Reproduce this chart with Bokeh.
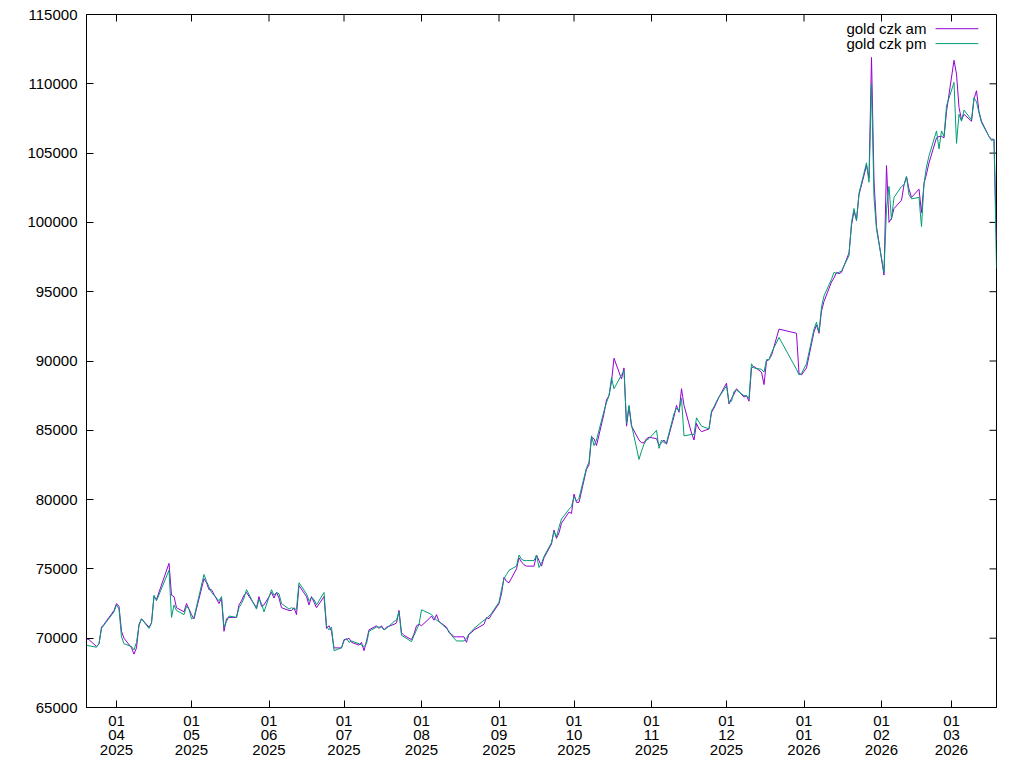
import pandas as pd
from bokeh.plotting import figure
from bokeh.models import (Range1d, FixedTicker, LinearAxis, DatetimeAxis, ColumnDataSource,
                          BasicTickFormatter)
from bokeh.core.properties import value
from bokeh.embed import file_html
from bokeh.resources import INLINE

dates = [
"2025-03-20","2025-03-21","2025-03-24","2025-03-25","2025-03-26","2025-03-27","2025-03-31",
"2025-04-01","2025-04-02","2025-04-03","2025-04-04","2025-04-07","2025-04-08","2025-04-09","2025-04-10","2025-04-11",
"2025-04-14","2025-04-15","2025-04-16","2025-04-17","2025-04-22","2025-04-23","2025-04-24","2025-04-25",
"2025-04-28","2025-04-29","2025-04-30","2025-05-01","2025-05-02","2025-05-06","2025-05-07","2025-05-08","2025-05-09",
"2025-05-12","2025-05-13","2025-05-14","2025-05-15","2025-05-16","2025-05-19","2025-05-20","2025-05-21","2025-05-22","2025-05-23",
"2025-05-27","2025-05-28","2025-05-29","2025-05-30","2025-06-02","2025-06-03","2025-06-04","2025-06-05","2025-06-06",
"2025-06-09","2025-06-10","2025-06-11","2025-06-12","2025-06-13","2025-06-16","2025-06-17","2025-06-18","2025-06-19","2025-06-20",
"2025-06-23","2025-06-24","2025-06-25","2025-06-26","2025-06-27","2025-06-30","2025-07-01","2025-07-02","2025-07-03","2025-07-04",
"2025-07-07","2025-07-08","2025-07-09","2025-07-10","2025-07-11","2025-07-14","2025-07-15","2025-07-16","2025-07-17","2025-07-18",
"2025-07-21","2025-07-22","2025-07-23","2025-07-24","2025-07-25","2025-07-28","2025-07-29","2025-07-30","2025-07-31","2025-08-01",
"2025-08-04","2025-08-05","2025-08-06","2025-08-07","2025-08-08","2025-08-11","2025-08-12","2025-08-13","2025-08-14","2025-08-15",
"2025-08-18","2025-08-19","2025-08-20","2025-08-21","2025-08-22","2025-08-26","2025-08-27","2025-08-28","2025-08-29",
"2025-09-01","2025-09-02","2025-09-03","2025-09-04","2025-09-05","2025-09-08","2025-09-09","2025-09-10","2025-09-11","2025-09-12",
"2025-09-15","2025-09-16","2025-09-17","2025-09-18","2025-09-19","2025-09-22","2025-09-23","2025-09-24","2025-09-25","2025-09-26",
"2025-09-29","2025-09-30","2025-10-01","2025-10-02","2025-10-03","2025-10-06","2025-10-07","2025-10-08","2025-10-09","2025-10-10",
"2025-10-13","2025-10-14","2025-10-15","2025-10-16","2025-10-17","2025-10-20","2025-10-21","2025-10-22","2025-10-23","2025-10-24",
"2025-10-27","2025-10-28","2025-10-29","2025-10-30","2025-10-31","2025-11-03","2025-11-04","2025-11-05","2025-11-06","2025-11-07",
"2025-11-10","2025-11-11","2025-11-12","2025-11-13","2025-11-14","2025-11-17","2025-11-18","2025-11-19","2025-11-20","2025-11-21",
"2025-11-24","2025-11-25","2025-11-26","2025-11-27","2025-11-28","2025-12-01","2025-12-02","2025-12-03","2025-12-04","2025-12-05",
"2025-12-08","2025-12-09","2025-12-10","2025-12-11","2025-12-12","2025-12-15","2025-12-16","2025-12-17","2025-12-18","2025-12-19",
"2025-12-22","2025-12-29","2025-12-30","2025-12-31","2026-01-02","2026-01-05","2026-01-06","2026-01-07","2026-01-08","2026-01-09",
"2026-01-12","2026-01-13","2026-01-14","2026-01-15","2026-01-16","2026-01-19","2026-01-20","2026-01-21","2026-01-22","2026-01-23",
"2026-01-26","2026-01-27","2026-01-28","2026-01-29","2026-01-30","2026-02-02","2026-02-03","2026-02-04","2026-02-05","2026-02-06",
"2026-02-09","2026-02-10","2026-02-11","2026-02-12","2026-02-13","2026-02-16","2026-02-17","2026-02-18","2026-02-19","2026-02-20",
"2026-02-23","2026-02-24","2026-02-25","2026-02-26","2026-02-27","2026-03-02","2026-03-03","2026-03-04","2026-03-05","2026-03-06",
"2026-03-09","2026-03-10","2026-03-11","2026-03-12","2026-03-13","2026-03-16","2026-03-17","2026-03-18","2026-03-19",
]

gold_czk_am = [
69950,69900,69400,69600,70800,71000,72000,
72500,72300,70500,70000,69300,68850,69300,71000,71400,
70800,71100,73000,72800,75400,73100,73000,72200,
71900,72500,72100,71700,71400,74300,74000,73500,73500,
72500,72900,70500,71400,71500,71500,72400,72700,73100,73300,
72200,73000,72300,72400,73300,72900,73300,72900,72200,
72000,72000,72200,71700,73800,73000,72400,73000,72600,72200,
73000,70700,70900,70500,69300,69300,69900,69900,70000,69700,
69500,69700,69100,69800,70600,70900,70700,70900,70600,70800,
71000,71100,72000,70400,70200,69900,70300,70900,71000,70900,
71400,71600,71300,71700,71200,70800,70400,70300,70100,70100,
70100,69700,70300,70400,70600,71000,71500,71400,71700,
72500,73200,74400,74100,74000,75000,75800,75500,75300,75200,
75200,76000,75600,75200,75800,76800,77800,77200,77600,78300,
79100,79000,80400,79800,79800,82200,82500,84500,84400,83900,
86200,87200,87500,88500,90200,88700,89500,85300,86700,85300,
84300,84100,84100,84400,84500,84400,83900,84100,84300,84000,
86000,86800,86300,88000,86800,84800,84300,85500,85100,84900,
85100,86300,86600,87000,87400,88400,86900,87300,87600,88000,
87400,87500,87100,89500,89600,89200,88300,90000,90100,90400,
92300,92000,89100,89000,89500,92100,92600,92000,93600,94300,
95700,96000,96400,96300,96400,97800,99800,100800,100200,102000,
104100,103200,111900,103000,99700,96200,104100,100000,100300,101000,
101600,102700,103300,102400,101800,102400,100700,102800,103500,104300,
106100,106200,106200,106100,108000,111700,110700,108300,107400,107800,
107300,108900,109500,108000,107300,106200,106000,106000,98700,
]

gold_czk_pm = [
69500,69450,69350,69600,70700,70950,71900,
72400,72100,70100,69600,69400,69150,69700,70900,71400,
70700,71100,73100,72700,74900,71500,72400,72000,
71700,72300,72100,71400,71500,74600,74100,73700,73300,
72700,73000,70800,71200,71600,71500,72200,72500,72900,73500,
72100,72800,72500,71900,73500,73100,73300,73200,72500,
72100,72200,72100,72100,74000,73200,72700,72900,72800,72400,
73300,70900,70600,70800,69100,69300,69800,70000,69700,69800,
69600,69500,69400,69600,70500,70800,70800,70800,70600,70700,
71200,71300,71900,70200,70100,69750,70200,70600,71000,72050,
71800,71700,71500,71300,71200,70700,70500,70200,70000,69800,
69800,70000,70300,70500,70700,71300,71400,71600,71800,
72600,73500,74300,74600,74900,75200,76000,75700,75600,75600,
75600,76000,75100,75400,75900,76900,77700,77300,78000,78600,
79300,79500,80200,79900,80100,82300,82700,84600,83900,84300,
86400,87000,87500,88800,88000,89000,89300,85500,86800,85400,
82900,83500,84000,84300,84400,85000,83700,84300,84100,84100,
86200,86600,86400,87300,84600,84700,84700,85900,85600,85300,
85100,86400,86700,87100,87400,88200,87000,87100,87800,87900,
87500,87500,87300,89800,89500,89400,89200,90100,90100,90600,
91700,89400,89000,89100,89800,92300,92800,92100,93900,94700,
95900,96400,96300,96400,96500,97600,100000,101000,100100,102100,
104300,102900,110000,101800,99500,96400,101000,102600,100200,101800,
102600,102700,103300,102000,101700,101800,99700,102800,104000,104800,
106600,105300,106600,106200,108400,110100,105700,107800,107300,108100,
107400,109000,108700,107900,107200,106200,105900,106000,96700,
]

y_ticks = [65000, 70000, 75000, 80000, 85000, 90000, 95000, 100000, 105000, 110000, 115000]
x_tick_dates = ["2025-04-01","2025-05-01","2025-06-01","2025-07-01","2025-08-01","2025-09-01",
                "2025-10-01","2025-11-01","2025-12-01","2026-01-01","2026-02-01","2026-03-01"]
x_tick_days = ["01"] * 12
x_tick_months = ["04","05","06","07","08","09","10","11","12","01","02","03"]
x_tick_years = ["2025"] * 9 + ["2026"] * 3
series_labels = ["gold czk am", "gold czk pm"]
series_colors = ["#9400D3", "#009E73"]

FONT = "Liberation Sans"
FS = "15px"
W, H = 1024, 768
BL, BR, BT, BB = 86, 28, 14, 61
TICK = 7

x = pd.to_datetime(dates)
tick_x = pd.to_datetime(x_tick_dates)
xs = Range1d(start=x[0], end=x[-1])
ys = Range1d(start=y_ticks[0], end=y_ticks[-1])

p = figure(width=W, height=H, x_axis_type=None, y_axis_type=None,
           x_range=xs, y_range=ys, output_backend="svg", toolbar_location=None,
           min_border_left=BL, min_border_right=BR, min_border_top=BT, min_border_bottom=BB)
p.xgrid.visible = False
p.ygrid.visible = False
p.outline_line_color = "black"
p.outline_line_width = 1
p.background_fill_color = "white"
p.border_fill_color = "white"

tick_ms = [t.value / 1e6 for t in tick_x]

def label_axis(labels, standoff, first):
    ax = DatetimeAxis(ticker=FixedTicker(ticks=tick_ms))
    ax.major_label_overrides = {t: l for t, l in zip(tick_ms, labels)}
    ax.major_label_text_font = FONT
    ax.major_label_text_font_size = FS
    ax.major_label_text_color = "black"
    ax.major_label_standoff = standoff
    ax.minor_tick_line_color = None
    if first:
        ax.axis_line_color = "black"
        ax.major_tick_line_color = "black"
        ax.major_tick_in = TICK
        ax.major_tick_out = 0
    else:
        ax.axis_line_color = None
        ax.major_tick_line_color = None
        ax.major_tick_in = 0
        ax.major_tick_out = 0
    return ax

p.add_layout(label_axis(x_tick_days, 8, True), "below")
p.add_layout(label_axis(x_tick_months, 1, False), "below")
p.add_layout(label_axis(x_tick_years, 2, False), "below")

yl = LinearAxis(ticker=FixedTicker(ticks=y_ticks), formatter=BasicTickFormatter(use_scientific=False))
yl.axis_line_color = "black"
yl.major_tick_in = TICK
yl.major_tick_out = 0
yl.minor_tick_line_color = None
yl.major_tick_line_color = "black"
yl.major_label_text_font = FONT
yl.major_label_text_font_size = FS
yl.major_label_text_color = "black"
yl.major_label_standoff = 9
p.add_layout(yl, "left")

# mirrored inward ticks on the top and right borders
fw = W - BL - BR
fh = H - BT - BB
span_x = x[-1] - x[0]
span_y = y_ticks[-1] - y_ticks[0]
dy_tick = span_y * TICK / fh
dx_tick = span_x * TICK / fw
p.segment(x0=tick_x, y0=[y_ticks[-1]] * len(tick_x), x1=tick_x, y1=[y_ticks[-1] - dy_tick] * len(tick_x),
          line_color="black", line_width=1)
p.segment(x0=[x[-1]] * len(y_ticks), y0=y_ticks, x1=[x[-1] - dx_tick] * len(y_ticks), y1=y_ticks,
          line_color="black", line_width=1)

src = ColumnDataSource(dict(x=x, am=gold_czk_am, pm=gold_czk_pm))
p.line("x", "am", source=src, line_color=series_colors[0], line_width=1)
p.line("x", "pm", source=src, line_color=series_colors[1], line_width=1)

# key at top right: text right-aligned, line sample to its right
txt_x = x[0] + span_x * 0.923
seg_x0 = x[0] + span_x * 0.933
seg_x1 = x[0] + span_x * 0.980
row_y = [y_ticks[-1] - span_y * 0.0205, y_ticks[-1] - span_y * 0.0420]
p.text(x=[txt_x, txt_x], y=row_y, text=series_labels, text_align="right", text_baseline="middle",
       text_font=value(FONT), text_font_size=FS, text_color="black")
p.segment(x0=[seg_x0, seg_x0], y0=row_y, x1=[seg_x1, seg_x1], y1=row_y,
          line_color=series_colors, line_width=1)

open("out.html", "w").write(file_html(p, INLINE))
